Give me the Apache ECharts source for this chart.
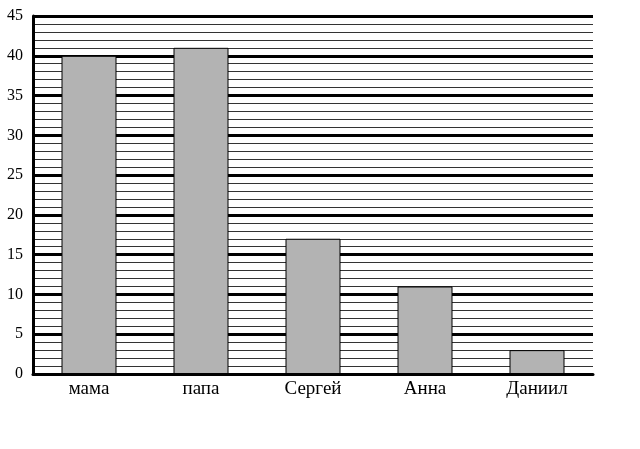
<!DOCTYPE html>
<html><head><meta charset="utf-8">
<script src="https://cdn.jsdelivr.net/npm/echarts@6/dist/echarts.min.js"></script>
<style>html,body{margin:0;padding:0;background:#fff}#c{width:640px;height:449px}</style>
</head><body><div id="c"></div>
<script>
const categories = ['мама', 'папа', 'Сергей', 'Анна', 'Даниил'];
const values = [40, 41, 17, 11, 3];
const yMin = 0, yMax = 45, yStep = 5;

const chart = echarts.init(document.getElementById('c'), null, {renderer: 'canvas'});
chart.setOption({
  animation: false,
  backgroundColor: '#fff',
  grid: {left: 33, right: 47, top: 16, bottom: 75, containLabel: false},
  xAxis: {
    type: 'category', data: categories,
    axisLine: {show: true, lineStyle: {color: '#000', width: 3}},
    axisTick: {show: false},
    axisLabel: {color: '#000', fontFamily: 'Liberation Serif', fontSize: 19, margin: 6}
  },
  yAxis: {
    type: 'value', min: yMin, max: yMax, interval: yStep,
    axisLine: {show: true, lineStyle: {color: '#000', width: 3}},
    axisTick: {show: false},
    axisLabel: {color: '#000', fontFamily: 'Liberation Serif', fontSize: 16, margin: 10},
    splitLine: {show: true, lineStyle: {color: '#000', width: 3}},
    minorTick: {show: false, splitNumber: 5},
    minorSplitLine: {show: true, lineStyle: {color: '#333', width: 1}}
  },
  series: [{
    type: 'bar', data: values, barWidth: 55,
    itemStyle: {color: '#b3b3b3', borderColor: '#000', borderWidth: 1}
  }]
});
</script></body></html>
